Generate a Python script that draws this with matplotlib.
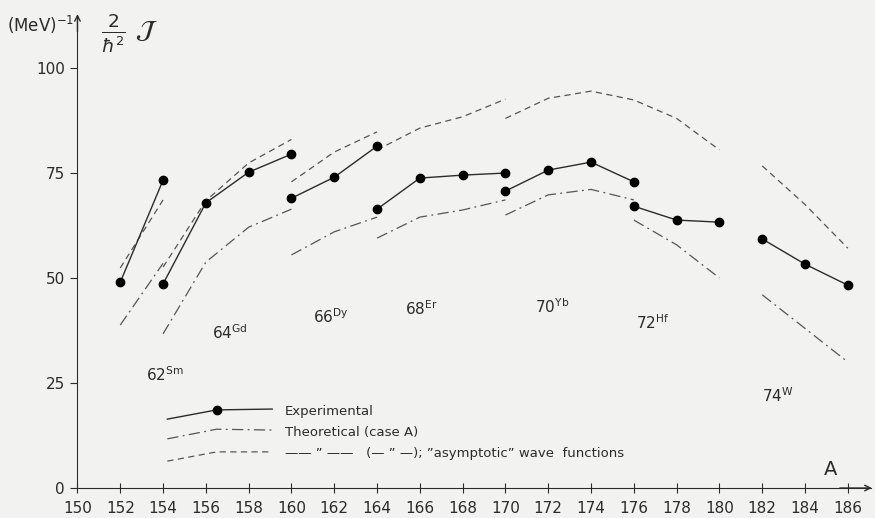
import numpy as np
import matplotlib.pyplot as plt

#%% data (A, 2J/hbar^2 in MeV^-1)
elements = ['62$^{\\mathrm{Sm}}$', '64$^{\\mathrm{Gd}}$', '66$^{\\mathrm{Dy}}$', '68$^{\\mathrm{Er}}$',
            '70$^{\\mathrm{Yb}}$', '72$^{\\mathrm{Hf}}$', '74$^{\\mathrm{W}}$']
label_A = [153.2, 156.3, 161.0, 165.3, 171.4, 176.1, 182.0]
label_J = [27.0, 37.1, 40.8, 42.6, 43.1, 39.3, 22.0]

# experimental
exp_A = [[152, 154], [154, 156, 158, 160], [160, 162, 164], [164, 166, 168, 170],
         [170, 172, 174, 176], [176, 178, 180], [182, 184, 186]]
exp_J = [[49.0, 73.3], [48.6, 67.9, 75.2, 79.5], [69.0, 74.0, 81.4], [66.4, 73.8, 74.5, 75.0],
         [70.7, 75.7, 77.6, 72.9], [67.1, 63.8, 63.3], [59.3, 53.3, 48.3]]

# theoretical (case A)
th_A = [[152, 154], [154, 156, 158, 160], [160, 162, 164], [164, 166, 168, 170],
        [170, 172, 174, 176], [176, 178, 180], [182, 184, 186]]
th_J = [[38.8, 53.5], [36.7, 53.8, 62.1, 66.4], [55.5, 61.0, 64.5], [59.5, 64.5, 66.2, 68.6],
        [65.0, 69.8, 71.1, 68.6], [63.8, 57.9, 50.0], [46.0, 38.0, 30.0]]

# theoretical, "asymptotic" wave functions
as_A = [[152, 154], [154, 156, 158, 160], [160, 162, 164], [164, 166, 168, 170],
        [170, 172, 174, 176, 178, 180], [182, 184, 186]]
as_J = [[52.4, 68.6], [52.6, 68.4, 77.4, 83.0], [72.9, 80.0, 84.8], [80.5, 85.7, 88.4, 92.6],
        [88.0, 92.8, 94.5, 92.4, 88.0, 80.5], [76.7, 67.5, 57.1]]

# hand drawn legend keys
key_A = [154.2, 156.5, 159.1]
key_exp = [16.4, 18.6, 18.8]
key_th = [11.7, 14.0, 13.8]
key_as = [6.4, 8.6, 8.6]
legend_texts = ['Experimental', 'Theoretical (case A)',
                '\u2014\u2014 \u201d \u2014\u2014   (\u2014 \u201d \u2014); \u201dasymptotic\u201d wave  functions']
legend_J = [18.3, 13.3, 8.1]

xticks = np.arange(150, 187, 2)
yticks = [0, 25, 50, 75, 100]

#%% plot
bg = '#f2f2f0'
ink = '#2b2b2b'
dash = (0, (5, 3.5))
dashdot = (0, (9, 3.5, 1.5, 3.5))

fig = plt.figure(figsize=(8.75, 5.18), dpi=100, facecolor=bg)
ax = fig.add_axes([0, 0, 1, 1], facecolor=bg)
ax.set_xlim(146.38, 187.27)
ax.set_ylim(-7.14, 116.2)

for a, j in zip(exp_A, exp_J):
    ax.plot(a, j, '-', color=ink, lw=1.0, marker='o', ms=6, mfc='black', mec='black', zorder=3)
for a, j in zip(th_A, th_J):
    ax.plot(a, j, color='#555555', lw=0.9, linestyle=dashdot)
for a, j in zip(as_A, as_J):
    ax.plot(a, j, color='#555555', lw=0.9, linestyle=dash)

# legend
ax.plot(key_A, key_exp, '-', color=ink, lw=1.0)
ax.plot(key_A[1], key_exp[1], 'o', color='black', ms=6)
ax.plot(key_A, key_th, color='#555555', lw=0.9, linestyle=dashdot)
ax.plot(key_A, key_as, color='#555555', lw=0.9, linestyle=dash)
for t, j in zip(legend_texts, legend_J):
    ax.text(159.7, j, t, fontsize=9.5, color=ink, va='center', ha='left')

for t, a, j in zip(elements, label_A, label_J):
    ax.text(a, j, t, fontsize=11, color=ink, ha='left', va='center')

# axes like the drawing
for s in ['top', 'right']:
    ax.spines[s].set_visible(False)
ax.spines['left'].set_position(('data', 150))
ax.spines['bottom'].set_position(('data', 0))
ax.spines['left'].set_bounds(0, 112.5)
ax.spines['bottom'].set_bounds(150, 187.1)
ax.spines['left'].set_color(ink)
ax.spines['bottom'].set_color(ink)
ax.annotate('', xy=(150, 113.5), xytext=(150, 108), arrowprops=dict(arrowstyle='->', color=ink, lw=1.0))
ax.annotate('', xy=(187.25, 0), xytext=(185.5, 0), arrowprops=dict(arrowstyle='->', color=ink, lw=1.0))

ax.set_xticks(xticks)
ax.set_yticks(yticks)
ax.tick_params(axis='x', direction='inout', length=7, labelsize=11, colors=ink, pad=6)
ax.tick_params(axis='y', direction='out', length=5, labelsize=11, colors=ink, pad=4)

ax.text(149.85, 110.2, '(MeV)$^{-1}$', fontsize=12, color=ink, ha='right', va='center')
ax.text(151.1, 108.3, r'$\frac{2}{\hbar^2}\ \mathcal{J}$', fontsize=19, color=ink, ha='left', va='center')
ax.text(185.2, 4.5, 'A', fontsize=14, color=ink, ha='center', va='center')

fig.savefig('out.png', dpi=100, facecolor=bg)
